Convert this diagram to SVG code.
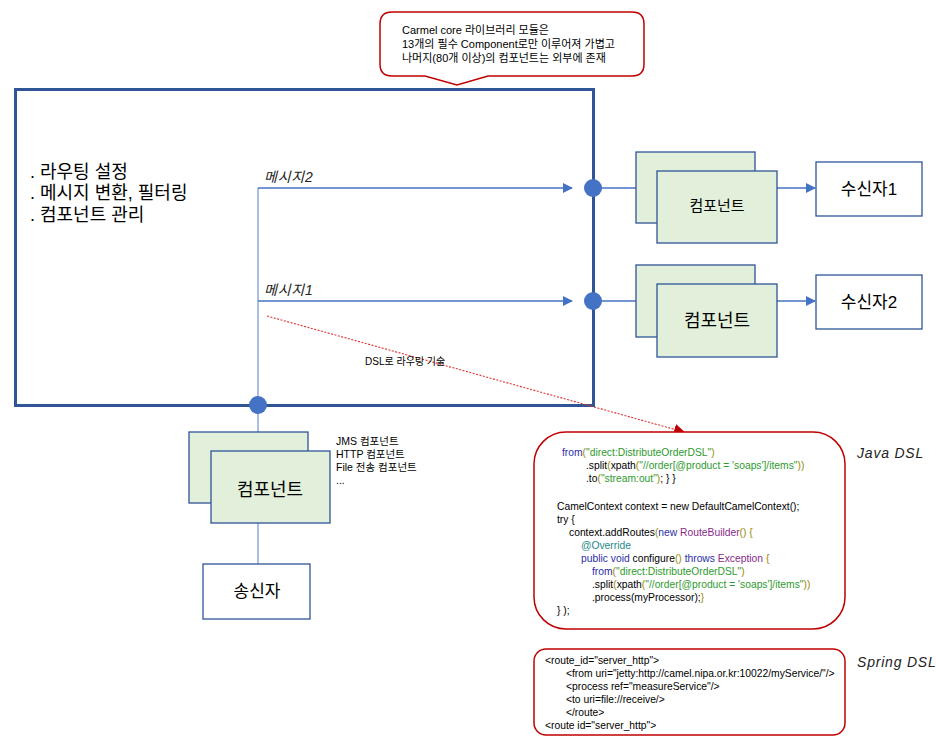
<svg xmlns="http://www.w3.org/2000/svg" width="936" height="744" viewBox="0 0 936 744">
<defs>
<marker id="ab" viewBox="0 0 10 10" refX="9" refY="5" markerWidth="10" markerHeight="10" markerUnits="userSpaceOnUse" orient="auto"><path d="M0,0 L10,5 L0,10 z" fill="#4472C4"/></marker>
<marker id="ar" viewBox="0 0 10 10" refX="9" refY="5" markerWidth="11" markerHeight="11" markerUnits="userSpaceOnUse" orient="auto"><path d="M0,0 L10,5 L0,10 z" fill="#C00000"/></marker>
<style>
text{font-family:"Liberation Sans","Noto Sans CJK KR",sans-serif;fill:#000}
.comp{fill:#E2EFDA;stroke:#2F5597;stroke-width:1.3}
.box{fill:#fff;stroke:#2F5597;stroke-width:1.3}
.red{fill:#fff;stroke:#C00000;stroke-width:1.5}
.code{font-size:10.3px}
.ln{stroke:#4472C4;stroke-width:1.3;fill:none}
.lnv{stroke:#8FAADC;stroke-width:1.5;fill:none}
.dot{fill:#4472C4}
.it{font-style:italic;font-size:14px;fill:#222;letter-spacing:0.8px}
.kw{fill:#2A2FA8}.st{fill:#2E9B2E}.pa{fill:#9A8A00}.ty{fill:#8A2A8A}.an{fill:#1E8A8A}
</style>
</defs>

<g id="callout">
<path class="red" d="M392,12 H632 Q644,12 644,24 V64 Q644,76 632,76 H488 L457,85 L425,76 H392 Q380,76 380,64 V24 Q380,12 392,12 Z"/>
<text x="402" y="34" font-size="11">Carmel core 라이브러리 모듈은</text>
<text x="402" y="48" font-size="11">13개의 필수 Component로만 이루어져 가볍고</text>
<text x="402" y="62" font-size="11">나머지(80개 이상)의  컴포넌트는 외부에 존재</text>
</g>

<g id="camel-context">
<rect x="15.5" y="89.5" width="578" height="316" fill="#fff" stroke="#2F5597" stroke-width="3"/>
<text x="30" y="178" font-size="18">. 라우팅 설정</text>
<text x="30" y="199" font-size="18">. 메시지 변환, 필터링</text>
<text x="30" y="221" font-size="18">. 컴포넌트 관리</text>
</g>

<g id="connectors">
<line class="lnv" x1="258" y1="188" x2="258" y2="405"/>
<line class="ln" x1="258" y1="188" x2="572" y2="188" marker-end="url(#ab)"/>
<line class="ln" x1="258" y1="301" x2="572" y2="301" marker-end="url(#ab)"/>
<line class="ln" x1="593" y1="188" x2="636" y2="188"/>
<line class="ln" x1="593" y1="301" x2="636" y2="301"/>
<line class="ln" x1="777" y1="188" x2="815" y2="188" marker-end="url(#ab)"/>
<line class="ln" x1="777" y1="301" x2="815" y2="301" marker-end="url(#ab)"/>
<line class="lnv" x1="258" y1="405" x2="258" y2="432"/>
<line class="lnv" x1="258" y1="523" x2="258" y2="564"/>
<line x1="267" y1="316" x2="684" y2="432" stroke="#E03030" stroke-width="1.1" stroke-dasharray="2,1.5" marker-end="url(#ar)"/>
<text x="365" y="365" font-size="10">DSL로 라우팅 기술</text>
<text class="it" x="264" y="182">메시지2</text>
<text class="it" x="264" y="295">메시지1</text>
</g>

<g id="ports">
<circle class="dot" cx="593" cy="188" r="9"/>
<circle class="dot" cx="593" cy="301" r="9"/>
<circle class="dot" cx="258" cy="405" r="9"/>
</g>

<g id="component1">
<rect class="comp" x="636" y="152" width="119" height="71"/>
<rect class="comp" x="657" y="171" width="120" height="72"/>
<text x="717" y="211" font-size="15" text-anchor="middle">컴포넌트</text>
</g>
<g id="receiver1">
<rect class="box" x="816" y="162" width="106" height="54"/>
<text x="869" y="195" font-size="17" text-anchor="middle">수신자1</text>
</g>

<g id="component2">
<rect class="comp" x="636" y="265" width="119" height="72"/>
<rect class="comp" x="657" y="284" width="120" height="73"/>
<text x="717" y="327" font-size="18" text-anchor="middle">컴포넌트</text>
</g>
<g id="receiver2">
<rect class="box" x="816" y="275" width="106" height="54"/>
<text x="869" y="308" font-size="17" text-anchor="middle">수신자2</text>
</g>

<g id="component3">
<rect class="comp" x="189" y="432" width="119" height="71"/>
<rect class="comp" x="211" y="451" width="119" height="72"/>
<text x="270" y="496" font-size="18" text-anchor="middle">컴포넌트</text>
<text x="336" y="445" font-size="10.5">JMS 컴포넌트</text>
<text x="336" y="458" font-size="10.5">HTTP 컴포넌트</text>
<text x="336" y="471" font-size="10.5">File 전송 컴포넌트</text>
<text x="336" y="484" font-size="10.5">...</text>
</g>

<g id="sender">
<rect class="box" x="203" y="564" width="107" height="55"/>
<text x="257" y="597" font-size="17" text-anchor="middle">송신자</text>
</g>

<g id="java-dsl">
<rect class="red" x="534" y="432" width="311" height="197" rx="32" ry="32"/>
<text class="code" x="562" y="456"><tspan class="kw">from</tspan><tspan class="pa">(</tspan><tspan class="st">"direct:DistributeOrderDSL"</tspan><tspan class="pa">)</tspan></text>
<text class="code" x="586" y="469">.split<tspan class="pa">(</tspan>xpath<tspan class="pa">(</tspan><tspan class="st">"//order[@product = 'soaps']/items"</tspan><tspan class="pa">))</tspan></text>
<text class="code" x="586" y="482">.to<tspan class="pa">(</tspan><tspan class="st">"stream:out"</tspan><tspan class="pa">)</tspan>; } }</text>
<text class="code" x="557" y="510">CamelContext context = new DefaultCamelContext();</text>
<text class="code" x="557" y="523">try {</text>
<text class="code" x="569" y="536">context.addRoutes<tspan class="pa">(</tspan><tspan class="kw">new</tspan> <tspan class="ty">RouteBuilder</tspan><tspan class="pa">() {</tspan></text>
<text class="code" x="581" y="549"><tspan class="an">@Override</tspan></text>
<text class="code" x="581" y="562"><tspan class="kw">public void</tspan> configure<tspan class="pa">()</tspan> <tspan class="kw">throws</tspan> <tspan class="ty">Exception</tspan> <tspan class="pa">{</tspan></text>
<text class="code" x="592" y="575"><tspan class="kw">from</tspan><tspan class="pa">(</tspan><tspan class="st">"direct:DistributeOrderDSL"</tspan><tspan class="pa">)</tspan></text>
<text class="code" x="592" y="588">.split<tspan class="pa">(</tspan>xpath<tspan class="pa">(</tspan><tspan class="st">"//order[@product = 'soaps']/items"</tspan><tspan class="pa">))</tspan></text>
<text class="code" x="592" y="601">.process(myProcessor);<tspan class="pa">}</tspan></text>
<text class="code" x="557" y="614">} );</text>
<text class="it" x="857" y="458">Java DSL</text>
</g>

<g id="spring-dsl">
<rect class="red" x="534" y="649" width="311" height="86" rx="12" ry="12"/>
<text class="code" x="545" y="664">&lt;route_id="server_http"&gt;</text>
<text class="code" x="566" y="677">&lt;from uri="jetty:http://camel.nipa.or.kr:10022/myService/"/&gt;</text>
<text class="code" x="566" y="690">&lt;process ref="measureService"/&gt;</text>
<text class="code" x="566" y="703">&lt;to uri=file://receive/&gt;</text>
<text class="code" x="566" y="716">&lt;/route&gt;</text>
<text class="code" x="545" y="729">&lt;route id="server_http"&gt;</text>
<text class="it" x="857" y="667">Spring DSL</text>
</g>
</svg>
